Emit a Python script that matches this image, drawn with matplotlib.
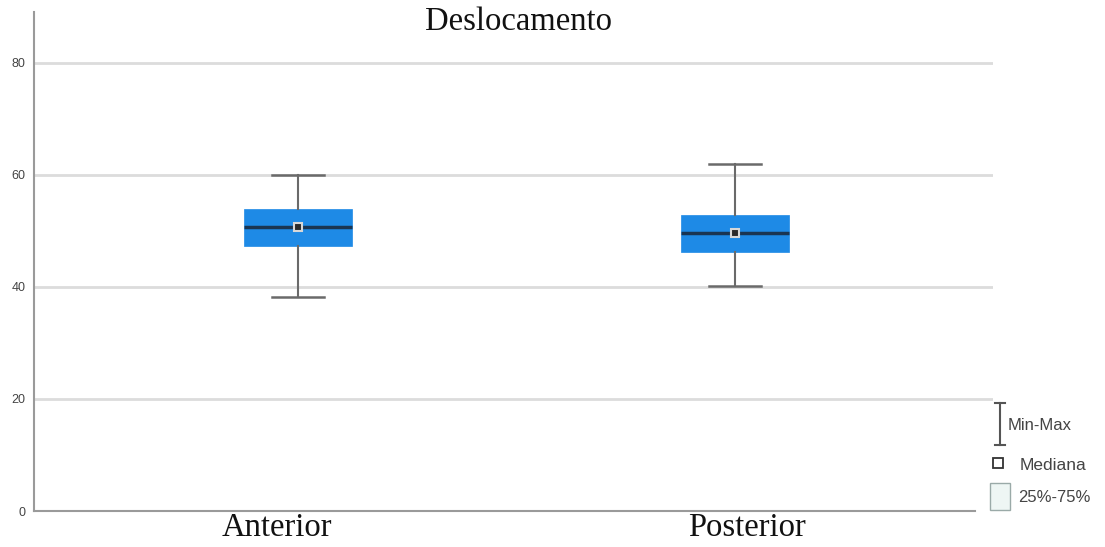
import matplotlib.pyplot as plt
from matplotlib.lines import Line2D
from matplotlib.patches import Rectangle

# values
categories = ["Anterior", "Posterior"]
mins = [38.2, 40.2]
q1 = [47.3, 46.3]
medians = [50.7, 49.6]
q3 = [53.9, 52.9]
maxs = [60.0, 62.0]
yticks = [0, 20, 40, 60, 80]

W, H = 1105, 547


def fx(px):
    return px / W


def fy(py):
    return 1 - py / H


fig = plt.figure(figsize=(W / 100, H / 100), dpi=100)
ax = fig.add_axes([fx(34), fy(511), fx(993) - fx(34), fy(12) - fy(511)])

stats = []
for i, c in enumerate(categories):
    stats.append({"label": c, "whislo": mins[i], "q1": q1[i], "med": medians[i],
                  "q3": q3[i], "whishi": maxs[i], "fliers": []})

ax.bxp(stats, positions=[1, 2], widths=0.247, capwidths=0.12, showfliers=False,
       patch_artist=True,
       boxprops=dict(facecolor="#1e8ae6", edgecolor="#1e8ae6", linewidth=0.5),
       medianprops=dict(color="#1a3552", linewidth=2.5),
       whiskerprops=dict(color="#6a6a6a", linewidth=1.5),
       capprops=dict(color="#6a6a6a", linewidth=1.8),
       zorder=3)

# median markers
ax.plot([1, 2], medians, linestyle="none", marker="s", markersize=6,
        markerfacecolor="#2a2a2a", markeredgecolor="#d8d8d8",
        markeredgewidth=1.5, zorder=4)

ax.set_xlim(0.396, 2.590)
ax.set_ylim(0, 89.1)
ax.set_yticks(yticks)
ax.set_yticklabels([str(t) for t in yticks], fontsize=9, color="#444444",
                   family="Liberation Sans")
ax.tick_params(axis="y", length=0, pad=6)
ax.tick_params(axis="x", length=0)
ax.set_xticks([])

for t in yticks[1:]:
    ax.axhline(t, color="#dcdcdc", linewidth=2, zorder=1)

for s in ["top", "right"]:
    ax.spines[s].set_visible(False)
ax.spines["left"].set_color("#9a9a9a")
ax.spines["left"].set_linewidth(1.5)
ax.spines["bottom"].set_color("#9a9a9a")
ax.spines["bottom"].set_linewidth(1.5)
ax.spines["bottom"].set_bounds(0.396, 2.549)

# category labels
for cx, c in zip([277, 747], categories):
    fig.text(fx(cx), fy(528), c, ha="center", va="center", fontsize=23.5,
             family="Liberation Serif", color="#111111")

fig.text(fx(519), fy(22), "Deslocamento", ha="center", va="center",
         fontsize=23.5, family="Liberation Serif", color="#111111")

# legend on the right
lc = "#555555"
fig.add_artist(Line2D([fx(1000), fx(1000)], [fy(403), fy(445)], color=lc, lw=1.5))
fig.add_artist(Line2D([fx(995), fx(1005)], [fy(403), fy(403)], color=lc, lw=1.5))
fig.add_artist(Line2D([fx(995), fx(1005)], [fy(445), fy(445)], color=lc, lw=1.5))
fig.text(fx(1008), fy(425), "Min-Max", ha="left", va="center", fontsize=12,
         family="Liberation Sans", color="#444444")

fig.add_artist(Line2D([fx(998)], [fy(463)], marker="s", markersize=7,
                      markerfacecolor="white", markeredgecolor="#333333",
                      markeredgewidth=1.3, linestyle="none"))
fig.text(fx(1020), fy(465), "Mediana", ha="left", va="center", fontsize=12.5,
         family="Liberation Sans", color="#444444")

fig.add_artist(Rectangle((fx(990), fy(510)), fx(20), 27 / H,
                         facecolor="#eef6f4", edgecolor="#9aaaa8", lw=1))
fig.text(fx(1018), fy(497), "25%-75%", ha="left", va="center", fontsize=12,
         family="Liberation Sans", color="#444444")

fig.savefig("out.png", dpi=100)
